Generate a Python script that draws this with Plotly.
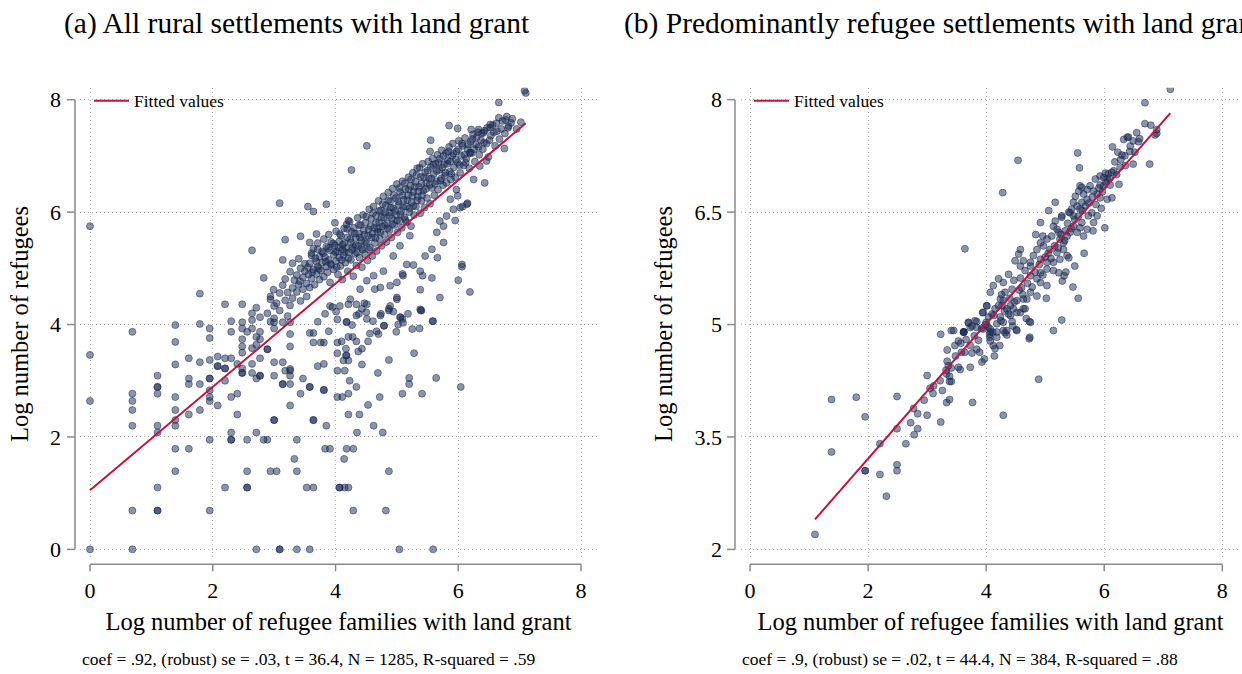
import plotly.graph_objects as go

# ---------------- data ----------------
# Panel (a): all rural settlements with land grant (sample of points)
x_a = [
 0, 0, 0, 0, .69, .69, .69, .69, .69, .69, .69,
 1.10, 1.10, 1.10, 1.10, 1.10, 1.10, 1.10, 1.10, 1.10,
 1.39, 1.39, 1.39, 1.39, 1.39, 1.39, 1.39, 1.39, 1.39,
 1.61, 1.61, 1.61, 1.61, 1.61, 1.79, 1.79, 1.79, 1.79, 1.79,
 1.95, 1.95, 1.95, 1.95, 1.95, 1.95, 1.95, 1.95, 1.95, 1.95,
 2.08, 2.08, 2.08, 2.08, 2.20, 2.20, 2.20, 2.20, 2.20, 2.20,
 2.30, 2.30, 2.30, 2.30, 2.30, 2.30, 2.30, 2.40, 2.40, 2.40,
 2.48, 2.48, 2.48, 2.48, 2.48, 2.48, 2.48, 2.48, 2.48,
 2.56, 2.56, 2.56, 2.56, 2.56, 2.64, 2.64, 2.64, 2.64, 2.64, 2.64, 2.64,
 2.71, 2.71, 2.71, 2.71, 2.71, 2.71, 2.77, 2.77, 2.77, 2.77, 2.77, 2.77,
 2.83, 2.89, 2.83, 2.89, 2.89, 2.94, 2.94, 2.94,
 3.0, 3.0, 3.0, 3.0, 3.0, 3.0, 3.04, 3.09, 3.09, 3.09,
 3.14, 3.14, 3.14, 3.14, 3.14, 3.18, 3.18, 3.26, 3.26, 3.26, 3.26, 3.26, 3.26, 3.26, 3.26, 3.30,
 3.33, 3.37, 3.37, 3.37, 3.43, 3.43, 3.47,
 3.53, 3.58, 3.58, 3.58, 3.58, 3.58, 3.64, 3.64, 3.64, 3.64, 3.64,
 3.61, 3.55, 3.64, 3.71, 3.71, 3.69, 3.71, 3.76,
 3.81, 3.81, 3.81, 3.81, 3.83, 3.85, 3.85, 3.83, 3.91, 3.89,
 3.95, 4.01, 4.03, 4.03, 4.03, 4.03, 4.03, 4.06, 3.99,
 4.07, 4.10, 4.11, 4.13, 4.14, 4.15, 4.15, 4.17, 4.17, 4.18, 4.18, 4.18, 4.18, 4.21,
 4.21, 4.21, 4.21, 4.21, 4.21, 4.21, 4.23, 4.26,
 4.28, 4.27, 4.29, 4.29, 4.34, 4.34, 4.34, 4.35, 4.37, 4.38, 4.39, 4.43, 4.43, 4.43, 4.47,
 4.50, 4.51, 4.51, 4.53, 4.53, 4.56, 4.61, 4.62, 4.67, 4.69, 4.70, 4.72, 4.74, 4.77, 4.79, 4.79,
 4.82, 4.87, 4.87, 4.87, 4.87, 4.94, 4.99, 5.0, 5.0, 5.02, 5.04, 5.06, 5.09, 5.09, 5.10, 5.09,
 5.18, 5.20, 5.20, 5.25, 5.28, 5.37, 5.38, 5.39, 5.40, 5.41, 5.59, 5.59, 5.57, 5.58, 5.64,
 5.66, 5.95, 6.0, 6.04, 6.06, 6.06, 6.19, 6.07, 5.99, 6.15, 6.43,
 5.55, 5.54, 5.85, 5.99, 6.66, 7.08, 7.10, 6.66, 6.77, 6.86, 6.82, 6.52, 6.52, 6.41, 6.33, 6.21, 6.75,
 2.89, 2.94, 2.99, 3.0, 3.04, 3.09, 3.09, 3.0,
 3.14, 3.18, 3.18, 3.22, 3.26, 3.26, 3.30, 3.30, 3.33, 3.22,
 3.37, 3.37, 3.40, 3.43, 3.43, 3.47, 3.47, 3.50, 3.50, 3.53, 3.53, 3.40,
 3.56, 3.58, 3.58, 3.61, 3.61, 3.64, 3.64, 3.66, 3.69, 3.69, 3.71, 3.71, 3.74, 3.74,
 3.76, 3.78, 3.78, 3.81, 3.81, 3.83, 3.85, 3.85, 3.87, 3.89, 3.89, 3.91, 3.91, 3.93, 3.93,
 3.97, 3.97, 3.99, 4.01, 4.01, 4.03, 4.04, 4.06, 4.06, 4.08, 4.09, 4.11, 4.11, 4.13, 4.14, 4.14,
 4.16, 4.17, 4.19, 4.20, 4.22, 4.23, 4.25, 4.25, 4.26, 4.28, 4.29, 4.30, 4.32, 4.33, 4.34,
 4.36, 4.37, 4.38, 4.39, 4.41, 4.42, 4.43, 4.44, 4.45, 4.47, 4.48, 4.49, 4.51, 4.52, 4.54, 4.55,
 4.56, 4.58, 4.59, 4.60, 4.62, 4.63, 4.64, 4.66, 4.67, 4.68, 4.70, 4.71, 4.72, 4.74, 4.75,
 4.76, 4.78, 4.79, 4.80, 4.82, 4.83, 4.84, 4.86, 4.87, 4.88, 4.89, 4.91, 4.92, 4.93, 4.94,
 4.96, 4.98, 4.99, 5.00, 5.01, 5.03, 5.04, 5.05, 5.07, 5.08, 5.09, 5.11, 5.12, 5.14, 5.15,
 5.16, 5.18, 5.19, 5.20, 5.22, 5.23, 5.24, 5.26, 5.27, 5.28, 5.30, 5.31, 5.33, 5.34,
 5.36, 5.38, 5.39, 5.40, 5.42, 5.43, 5.45, 5.46, 5.48, 5.49, 5.51, 5.52, 5.54, 5.55,
 5.57, 5.58, 5.60, 5.61, 5.63, 5.64, 5.66, 5.67, 5.69, 5.70, 5.72, 5.73, 5.75,
 5.77, 5.78, 5.80, 5.81, 5.83, 5.85, 5.86, 5.88, 5.90, 5.91, 5.93, 5.95,
 5.97, 5.99, 6.01, 6.03, 6.05, 6.07, 6.09, 6.11, 6.13, 6.15, 6.18, 6.20,
 6.22, 6.24, 6.27, 6.29, 6.32, 6.34, 6.37, 6.40, 6.43, 6.46, 6.49,
 6.53, 6.56, 6.60, 6.63, 6.67, 6.72, 6.76, 6.81, 6.88, 6.95, 7.02,
 4.51, 4.64, 4.73, 4.89, 5.0, 5.10, 5.16, 5.27, 5.38, 5.42, 5.46, 5.57, 5.65, 5.76, 5.81, 5.92, 6.03, 6.14,
 5.21, 5.05, 4.94, 4.78, 4.62, 4.40, 4.24, 4.07, 3.91, 4.34, 4.18, 4.51, 4.73, 4.89, 5.05, 5.38, 5.70, 5.76, 5.70,
 6.25, 6.35, 6.46, 6.19, 5.97, 5.87,
 3.42, 3.55, 3.62, 3.67, 3.73, 3.80, 3.84, 3.88, 3.92, 3.96,
 4.00, 4.02, 4.05, 4.07, 4.10, 4.12, 4.15, 4.19, 4.21, 4.24,
 4.27, 4.31, 4.33, 4.35, 4.38, 4.40, 4.43, 4.46, 4.48, 4.50,
 4.53, 4.55, 4.57, 4.60, 4.61, 4.65, 4.66, 4.69, 4.71, 4.73,
 4.75, 4.77, 4.80, 4.81, 4.85, 4.86, 4.88, 4.90, 4.93, 4.95,
 4.97, 5.00, 5.02, 5.04, 5.06, 5.09, 5.10, 5.13, 5.14, 5.17,
 5.19, 5.21, 5.23, 5.25, 5.27, 5.29, 5.32, 5.33, 5.35, 5.37,
 5.40, 5.41, 5.44, 5.47, 5.50, 5.53, 5.56, 5.59, 5.62, 5.65,
 5.68, 5.71, 5.74, 5.76, 5.79, 5.82, 5.84, 5.87, 5.89, 5.92,
 5.96, 6.00, 6.02, 6.06, 6.10, 6.12, 6.16, 6.19, 6.23, 6.26,
 6.30, 6.33, 6.38, 6.42, 6.47, 6.51, 6.58, 6.62, 6.70, 6.79,
]
y_a = [
 5.75, 3.46, 2.64, 0, 3.87, 2.77, 2.64, 2.48, 2.2, .69, 0,
 3.09, 2.89, 2.89, 2.77, 2.2, 2.08, 1.10, .69, .69,
 3.99, 3.69, 3.29, 2.71, 2.48, 2.30, 2.2, 1.79, 1.39,
 3.40, 3.04, 2.94, 2.40, 1.79, 4.55, 4.01, 3.33, 2.94, 2.48,
 3.93, 3.76, 3.37, 3.04, 3.04, 2.83, 2.71, 2.64, 1.95, .69,
 3.43, 3.26, 3.26, 2.56, 4.36, 3.40, 3.22, 3.22, 3.0, 1.10,
 4.06, 3.87, 3.40, 2.71, 2.08, 1.95, 1.95, 3.30, 2.77, 2.40,
 4.36, 4.04, 3.93, 3.74, 3.61, 3.50, 3.22, 3.14, 3.14,
 3.87, 1.95, 1.39, 1.10, 1.10, 4.20, 4.08, 3.93, 3.58, 3.30, 3.14, 5.32,
 4.30, 3.78, 3.64, 3.04, 2.08, 0, 4.13, 3.87, 3.74, 3.40, 3.09, 3.09,
 1.95, 1.95, 4.83, 3.56, 3.56, 1.39, 4.50, 4.05,
 4.33, 4.04, 3.33, 3.09, 2.30, 2.30, 1.39, 0, 0, 6.16,
 3.33, 2.94, 2.94, 4.04, 5.15, 5.51, 3.18, 2.94, 3.21, 2.56, 3.61, 3.83, 4.04, 3.18, 3.09, 5.09,
 1.61, 1.95, 1.39, 0, 2.77, 5.57, 3.04,
 1.10, 2.89, 2.89, 0, 5.46, 3.85, 1.10, 2.30, 2.30, 3.68, 3.85,
 5.27, 6.10, 6.01, 3.26, 5.34, 5.61, 4.05, 3.68,
 3.30, 2.83, 3.68, 2.84, 4.19, 6.14, 2.20, 1.79, 1.79, 3.88,
 4.31, 4.23, 4.09, 3.68, 3.18, 3.49, 2.71, 1.10, 5.81,
 1.10, 3.70, 2.71, 3.36, 1.61, 1.10, 3.18, 3.57, 3.45, 1.79, 4.05, 3.45, 5.78, 5.85,
 1.10, 3.78, 2.40, 2.77, 3.36, 4.36, 3.0, 6.75,
 3.78, 3.99, 1.79, .69, 3.70, 2.89, 4.36, 2.08, 3.52, 4.19, 2.40, 3.57, 3.29, 4.28, 4.38,
 4.22, 4.36, 7.18, 3.70, 2.57, 3.84, 4.06, 2.20, 3.88, 3.14, 3.83, 2.71, 4.19, 2.08, 3.98, 3.98,
 .69, 4.28, 1.39, 3.37, 4.25, 4.23, 3.87, 4.45, 4.48, 4.0, 0, 4.13, 2.77, 4.90, 4.03, 4.10,
 4.19, 3.05, 2.94, 3.92, 3.49, 3.93, 4.62, 4.25, 4.25, 2.77, 4.06, 0, 4.83, 4.06, 3.05,
 5.19, 5.85, 4.79, 2.89, 5.07, 5.03, 4.58, 6.10, 6.29, 6.16, 6.52,
 7.28, 7.08, 7.54, 7.49, 7.95, 8.16, 8.12, 7.68, 7.64, 7.59, 7.53, 7.56, 7.50, 7.41, 7.47, 7.47, 7.13,
 4.20, 4.45, 4.62, 4.11, 4.38, 4.56, 4.25, 3.93,
 4.70, 4.43, 4.81, 4.57, 4.34, 4.94, 4.65, 4.47, 4.79, 4.15,
 4.58, 4.88, 4.71, 5.0, 4.42, 4.84, 4.63, 5.08, 4.95, 4.73, 4.50, 5.17,
 4.89, 5.09, 4.66, 5.23, 4.82, 4.98, 5.35, 4.71, 5.12, 4.90, 5.45, 5.03, 4.80, 5.21,
 4.96, 5.30, 5.10, 5.52, 4.85, 5.20, 5.03, 5.39, 4.93, 5.60, 5.15, 5.32, 4.75, 5.47, 5.06,
 5.24, 4.98, 5.41, 5.13, 5.66, 5.30, 4.89, 5.48, 5.19, 5.04, 5.58, 5.34, 4.80, 5.23, 5.71, 5.45,
 5.10, 5.36, 5.55, 4.95, 5.28, 5.83, 5.46, 5.15, 5.65, 5.38, 4.86, 5.72, 5.26, 5.54, 5.05,
 5.90, 5.40, 5.62, 5.19, 5.77, 5.49, 5.02, 5.33, 5.95, 5.60, 5.25, 5.81, 5.45, 5.14, 5.69, 6.05,
 5.37, 5.88, 5.55, 5.22, 6.10, 5.72, 5.45, 5.94, 5.31, 5.65, 6.20, 5.82, 5.52, 6.03, 5.40,
 5.74, 6.28, 5.91, 5.60, 6.12, 5.47, 5.80, 6.35, 6.00, 5.68, 6.19, 5.55, 5.89, 6.42, 6.07,
 5.77, 6.25, 5.95, 6.50, 5.64, 6.13, 5.84, 6.36, 6.02, 5.72, 6.55, 6.22, 5.91, 6.41, 6.10,
 5.82, 6.30, 6.62, 6.00, 6.47, 5.75, 6.18, 6.70, 6.36, 5.95, 6.54, 6.10, 6.78, 6.27,
 6.45, 5.98, 6.63, 6.20, 6.86, 6.38, 6.08, 6.71, 6.52, 6.25, 6.90, 6.60, 6.15, 6.80,
 6.43, 6.95, 6.68, 6.30, 6.86, 6.55, 7.02, 6.40, 6.75, 6.95, 6.60, 7.10, 6.48,
 6.85, 6.65, 7.05, 6.52, 6.92, 7.16, 6.72, 6.58, 7.00, 7.22, 6.80, 6.62,
 7.08, 6.88, 7.27, 6.70, 7.00, 7.18, 6.83, 7.32, 6.95, 7.12, 6.78, 7.25,
 7.05, 7.38, 6.90, 7.20, 7.42, 7.02, 7.28, 7.12, 7.45, 7.22, 6.98,
 7.36, 7.55, 7.18, 7.44, 7.30, 7.62, 7.40, 7.50, 7.66, 7.48, 7.60,
 4.78, 4.63, 4.66, 4.69, 4.75, 4.87, 5.07, 5.06, 4.95, 4.87, 5.22, 5.34, 5.64, 5.75, 5.93, 6.05, 6.08, 6.14,
 5.58, 5.40, 5.22, 4.95, 4.87, 4.63, 4.45, 4.33, 4.33, 4.16, 4.04, 4.10, 4.16, 4.33, 4.13, 4.27, 4.48, 5.46, 5.84,
 6.58, 6.82, 6.91, 7.05, 6.40, 6.23,
 4.77, 5.02, 4.93, 5.18, 4.99, 5.27, 5.12, 5.36, 5.08, 5.44,
 5.29, 5.02, 5.37, 5.61, 5.15, 5.42, 5.29, 5.70, 5.18, 5.52,
 5.33, 5.62, 5.41, 5.28, 5.77, 5.55, 5.36, 5.68, 5.47, 5.92,
 5.58, 5.33, 5.75, 5.62, 5.98, 5.54, 5.81, 5.70, 6.02, 5.64,
 5.90, 6.14, 5.77, 5.99, 5.71, 6.21, 5.93, 6.08, 5.79, 6.30,
 6.02, 5.85, 6.19, 6.43, 5.96, 6.30, 6.09, 6.52, 5.86, 6.21,
 6.40, 6.07, 6.58, 6.29, 6.11, 6.45, 6.66, 6.21, 6.37, 6.79,
 6.51, 6.30, 6.62, 6.41, 6.74, 6.48, 6.60, 6.84, 6.50, 6.73,
 6.88, 6.56, 6.79, 7.00, 6.70, 6.86, 7.08, 6.90, 6.68, 7.04,
 6.93, 7.12, 6.84, 7.22, 7.02, 6.88, 7.20, 7.06, 7.30, 7.12,
 7.33, 7.16, 7.40, 7.24, 7.50, 7.28, 7.42, 7.58, 7.48, 7.70,
]

# Panel (b): predominantly refugee settlements with land grant
x_b = [
 1.10, 1.38, 1.38, 1.80, 1.95, 1.95, 1.95, 2.20, 2.20, 2.31,
 2.49, 2.49, 2.49, 2.49, 2.64, 2.72, 2.78, 2.84, 2.84, 2.77, 2.95, 3.0, 3.0,
 3.05, 3.11, 3.10, 3.23, 3.22, 3.33, 3.38, 3.38, 3.33, 3.38, 3.32, 3.36, 3.34, 3.41, 3.41, 3.53, 3.73, 3.77, 4.29, 4.89,
 3.34, 3.23, 3.41, 3.47, 3.53, 3.62, 3.58, 3.64, 3.73, 3.76, 3.84, 3.89, 3.93, 3.97, 4.14, 4.23, 4.12, 4.07, 4.06, 4.06,
 4.11, 4.32, 4.51, 4.73, 4.73, 4.44, 4.25, 3.84, 3.70, 3.76, 3.62, 3.62,
 4.0, 4.04, 4.10, 4.15, 4.21, 4.29, 3.94, 4.01, 4.38, 4.46, 4.58, 4.66, 4.41, 4.52, 4.63, 4.29, 4.18, 4.07, 4.35, 4.18,
 7.12, 6.69, 6.69, 6.79, 6.89, 6.86, 6.89, 6.77, 6.55, 6.58, 6.49, 6.41, 6.33, 6.39, 6.14, 6.23, 6.30, 6.43, 5.55, 5.58, 4.54, 4.28, 3.64,
 6.18, 6.27, 6.36, 6.49, 6.25, 6.07, 6.02, 6.13, 5.99, 5.93, 6.05, 6.10, 5.99, 5.93,
 5.85, 5.76, 5.71, 5.82, 5.88, 5.93, 6.05, 6.13, 5.95, 6.01,
 5.82, 5.81, 5.71, 5.65, 5.59, 5.54, 5.62, 5.73, 5.79, 5.88, 5.59, 5.48, 5.42, 5.54, 5.48, 5.62, 5.71, 5.65, 5.57, 5.51, 5.59,
 5.17, 5.06, 4.92, 4.84,
 5.31, 5.37, 5.25, 5.20, 5.14, 5.17, 5.28, 5.40, 5.45, 5.48, 5.42, 5.34, 5.23, 5.11, 5.03, 4.97, 5.08, 4.92, 4.86, 4.80,
 4.92, 5.03, 5.14, 5.25, 5.37, 5.20, 5.31,
 5.40, 5.50, 5.56, 5.29, 5.32, 5.14, 5.23, 5.03, 4.92, 4.86, 4.75, 4.66, 4.58, 4.49, 4.63, 4.75, 4.55, 4.58, 4.75, 4.92,
 5.03, 4.86, 4.69, 4.63, 4.52, 4.41, 4.35, 4.27, 4.24, 4.32, 4.44, 4.60, 4.75, 4.29, 4.12, 4.21, 4.38, 4.47, 4.07, 4.01,
 3.95, 3.81, 3.70, 3.73, 3.84, 3.95, 4.07, 4.18, 4.29, 4.35, 4.52, 4.75, 5.14, 5.28, 3.45, 3.62, 5.47, 4.74,
 3.48, 3.57, 3.66, 3.80, 3.87, 3.99, 4.03, 4.13, 4.24, 4.31,
 4.40, 4.48, 4.56, 4.62, 4.70, 4.78, 4.83, 4.90, 4.96, 5.00,
 5.05, 5.10, 5.16, 5.22, 5.27, 5.33, 5.38, 5.44, 5.50, 5.56,
 5.63, 5.68, 5.74, 5.80, 5.86, 5.91, 5.97, 6.03, 6.09, 6.16,
 6.21, 6.28, 6.35, 6.44, 6.52, 6.60, 4.15, 4.45, 4.68, 5.02,
 5.35, 5.66, 3.92, 4.26, 4.58, 4.96, 5.28, 5.62, 3.56, 3.26,
]
y_b = [
 2.20, 4.0, 3.30, 4.03, 3.77, 3.05, 3.05, 3.41, 3.0, 2.71,
 4.04, 3.61, 3.13, 3.05, 3.41, 3.69, 3.53, 3.61, 3.81, 3.88, 3.99, 3.79, 4.32,
 4.15, 4.18, 4.08, 3.70, 4.25, 3.96, 4.0, 4.24, 4.34, 4.31, 4.39, 4.45, 4.51, 4.24, 4.42, 4.43, 4.43, 3.96, 3.79, 4.27,
 4.66, 4.87, 4.92, 4.72, 4.78, 4.90, 4.63, 4.63, 4.72, 4.62, 4.67, 4.63, 4.50, 4.54, 4.58, 4.72, 4.72, 4.78, 4.83, 4.87,
 4.90, 4.89, 4.93, 4.81, 5.04, 5.04, 5.05, 5.04, 5.02, 4.98, 4.90, 4.90,
 5.03, 5.10, 5.14, 5.21, 5.25, 5.32, 5.16, 5.25, 5.14, 5.21, 5.16, 5.21, 5.25, 5.32, 5.34, 4.92, 4.90, 4.94, 4.86, 4.83,
 8.14, 7.96, 7.68, 7.66, 7.60, 7.53, 7.55, 7.14, 7.56, 7.44, 7.45, 7.50, 7.47, 7.50, 7.37, 7.30, 7.26, 7.31, 7.29, 7.09, 7.19, 6.76, 6.01,
 7.17, 7.10, 7.12, 7.14, 6.87, 7.01, 7.02, 7.03, 6.96, 6.98, 6.94, 6.86, 6.85, 6.86,
 6.94, 6.85, 6.80, 6.78, 6.74, 6.69, 6.67, 6.69, 6.55, 6.29,
 6.36, 6.25, 6.27, 6.18, 6.29, 6.23, 6.36, 6.45, 6.49, 6.45, 6.54, 6.45, 6.49, 6.58, 6.63, 6.63, 6.67, 6.74, 6.78, 6.71, 6.85,
 6.63, 6.52, 6.36, 6.20,
 6.09, 6.18, 6.14, 6.27, 6.31, 6.38, 6.43, 6.50, 6.54, 6.31, 6.23, 6.25, 6.23, 6.18, 6.14, 6.05, 6.00, 6.09, 6.00, 5.92,
 5.87, 5.83, 5.83, 5.87, 5.92, 5.96, 6.00,
 5.89, 5.78, 5.35, 5.58, 5.65, 5.72, 5.69, 5.74, 5.69, 5.61, 5.65, 5.72, 5.78, 5.85, 5.85, 5.83, 5.94, 6.0, 5.78, 5.56,
 5.52, 5.38, 5.34, 5.21, 5.16, 5.12, 5.21, 5.25, 5.34, 5.43, 5.47, 5.49, 5.43, 5.56, 5.52, 5.61, 5.67, 5.59, 5.43, 5.25,
 5.16, 5.05, 5.03, 4.96, 4.96, 4.94, 4.90, 5.01, 5.03, 4.92, 4.92, 5.03, 4.92, 5.06, 4.92, 4.90, 5.50, 4.83,
 4.58, 4.75, 4.80, 4.85, 4.79, 5.00, 4.97, 5.12, 5.10, 5.18,
 5.35, 5.30, 5.46, 5.40, 5.55, 5.50, 5.70, 5.80, 5.66, 5.90,
 5.95, 5.88, 6.05, 6.02, 6.20, 6.12, 6.35, 6.28, 6.40, 6.44,
 6.52, 6.58, 6.62, 6.70, 6.60, 6.82, 6.77, 6.90, 6.95, 7.05,
 7.00, 7.20, 7.25, 7.38, 7.30, 7.48, 4.68, 4.98, 5.08, 5.35,
 5.70, 5.95, 4.95, 5.40, 5.62, 6.18, 6.45, 6.83, 4.40, 4.12,
]

# fitted regression lines (endpoints at min / max of x)
fit_a_x = [0.0, 7.10]
fit_a_y = [1.05, 7.58]
fit_b_x = [1.10, 7.12]
fit_b_y = [2.40, 7.82]

ticks_a_x = [0, 2, 4, 6, 8]
ticks_a_y = [0, 2, 4, 6, 8]
ticks_b_x = [0, 2, 4, 6, 8]
ticks_b_y = [2, 3.5, 5, 6.5, 8]
ticktext_b_y = ["2", "3.5", "5", "6.5", "8"]

title_a = "(a) All rural settlements with land grant"
title_b = "(b) Predominantly refugee settlements with land grant"
xtitle = "Log number of refugee families with land grant"
ytitle = "Log number of refugees"
note_a = "coef = .92, (robust) se = .03, t = 36.4, N = 1285, R-squared = .59"
note_b = "coef = .9, (robust) se = .02, t = 44.4, N = 384, R-squared = .88"
legend_label = "Fitted values"

# ---------------- style ----------------
W, H = 1242, 674
SERIF = "Liberation Serif, Times New Roman, serif"
NAVY_FILL = "rgba(26,42,84,0.5)"
NAVY_EDGE = "rgba(26,42,84,0.62)"
RED = "#c8103c"
AXIS_GRAY = "#8a8a8a"
GRID_GRAY = "#b4b4b4"

def px_x(p):
    return p / W

def px_y(p):
    return 1 - p / H

# plot regions (paper) and data ranges
XDOM_A = [px_x(80), px_x(597)]
XDOM_B = [px_x(741), px_x(1240)]
YDOM = [px_y(562), px_y(88)]
XR_A = [-0.163, 8.26]
YR_A = [-0.195, 8.213]
XR_B = [-0.153, 8.3]
YR_B = [1.854, 8.159]

def to_paper(v, dom, rng):
    return dom[0] + (v - rng[0]) / (rng[1] - rng[0]) * (dom[1] - dom[0])

fig = go.Figure()

marker = dict(size=7, color=NAVY_FILL, line=dict(width=0.8, color=NAVY_EDGE))
fig.add_trace(go.Scatter(x=x_a, y=y_a, mode="markers", marker=marker,
                         showlegend=False, xaxis="x", yaxis="y", hoverinfo="skip"))
fig.add_trace(go.Scatter(x=fit_a_x, y=fit_a_y, mode="lines", line=dict(color=RED, width=2),
                         name=legend_label, legend="legend", xaxis="x", yaxis="y"))
fig.add_trace(go.Scatter(x=x_b, y=y_b, mode="markers", marker=marker,
                         showlegend=False, xaxis="x2", yaxis="y2", hoverinfo="skip"))
fig.add_trace(go.Scatter(x=fit_b_x, y=fit_b_y, mode="lines", line=dict(color=RED, width=2),
                         name=legend_label, legend="legend2", xaxis="x2", yaxis="y2"))

axis_common = dict(
    showgrid=True, gridcolor=GRID_GRAY, gridwidth=1, griddash="1px,3px",
    zeroline=False, showline=False, ticks="",
    tickfont=dict(family=SERIF, size=22, color="black"),
)
xtitle_font = dict(family=SERIF, size=24.5, color="black")

fig.update_layout(
    width=W, height=H,
    margin=dict(l=0, r=0, t=0, b=0),
    paper_bgcolor="white", plot_bgcolor="white",
    font=dict(family=SERIF, color="black"),
    xaxis=dict(domain=XDOM_A, range=XR_A, anchor="y",
               tickvals=ticks_a_x, ticklabelstandoff=15,
               title=dict(text=xtitle, font=xtitle_font, standoff=10),
               **axis_common),
    yaxis=dict(domain=YDOM, range=YR_A, anchor="x",
               tickvals=ticks_a_y, ticklabelstandoff=18,
               title=dict(text=ytitle, font=xtitle_font, standoff=14),
               **axis_common),
    xaxis2=dict(domain=XDOM_B, range=XR_B, anchor="y2",
                tickvals=ticks_b_x, ticklabelstandoff=15,
                title=dict(text=xtitle, font=xtitle_font, standoff=10),
                **axis_common),
    yaxis2=dict(domain=YDOM, range=YR_B, anchor="x2",
                tickvals=ticks_b_y, ticktext=ticktext_b_y, ticklabelstandoff=18,
                title=dict(text=ytitle, font=xtitle_font, standoff=14),
                **axis_common),
    legend=dict(x=px_x(89), y=px_y(83), xanchor="left", yanchor="top",
                bgcolor="rgba(0,0,0,0)", borderwidth=0, itemwidth=35,
                font=dict(family=SERIF, size=17.5, color="black")),
    legend2=dict(x=px_x(749), y=px_y(83), xanchor="left", yanchor="top",
                 bgcolor="rgba(0,0,0,0)", borderwidth=0, itemwidth=35,
                 font=dict(family=SERIF, size=17.5, color="black")),
)

# Stata-style detached axis lines with outward ticks (paper coordinates, so not clipped)
shapes = []
line_style = dict(color=AXIS_GRAY, width=1.5)
X_AXIS_Y = px_y(566)
X_TICK_Y = px_y(573)

def add_axes(xticks, yticks, xdom, xr, yr, yaxis_px):
    ax = px_x(yaxis_px)
    tx = px_x(yaxis_px - 8)
    shapes.append(dict(type="line", xref="paper", yref="paper", x0=ax, x1=ax,
                       y0=to_paper(yticks[0], YDOM, yr), y1=to_paper(yticks[-1], YDOM, yr),
                       line=line_style))
    for v in yticks:
        yp = to_paper(v, YDOM, yr)
        shapes.append(dict(type="line", xref="paper", yref="paper", x0=tx, x1=ax,
                           y0=yp, y1=yp, line=line_style))
    shapes.append(dict(type="line", xref="paper", yref="paper",
                       x0=to_paper(xticks[0], xdom, xr), x1=to_paper(xticks[-1], xdom, xr),
                       y0=X_AXIS_Y, y1=X_AXIS_Y, line=line_style))
    for v in xticks:
        xp = to_paper(v, xdom, xr)
        shapes.append(dict(type="line", xref="paper", yref="paper", x0=xp, x1=xp,
                           y0=X_AXIS_Y, y1=X_TICK_Y, line=line_style))

add_axes(ticks_a_x, ticks_a_y, XDOM_A, XR_A, YR_A, 75)
add_axes(ticks_b_x, ticks_b_y, XDOM_B, XR_B, YR_B, 735)
fig.update_layout(shapes=shapes)

annotations = [
    dict(text=title_a, xref="paper", yref="paper", x=px_x(62), y=px_y(24),
         xanchor="left", yanchor="middle", showarrow=False,
         font=dict(family=SERIF, size=29.5, color="black")),
    dict(text=title_b, xref="paper", yref="paper", x=px_x(622), y=px_y(24),
         xanchor="left", yanchor="middle", showarrow=False,
         font=dict(family=SERIF, size=29.5, color="black")),
    dict(text=note_a, xref="paper", yref="paper", x=px_x(80), y=px_y(661),
         xanchor="left", yanchor="middle", showarrow=False,
         font=dict(family=SERIF, size=17.5, color="black")),
    dict(text=note_b, xref="paper", yref="paper", x=px_x(740), y=px_y(661),
         xanchor="left", yanchor="middle", showarrow=False,
         font=dict(family=SERIF, size=17.5, color="black")),
]
fig.update_layout(annotations=annotations)

fig.write_html("out.html")
